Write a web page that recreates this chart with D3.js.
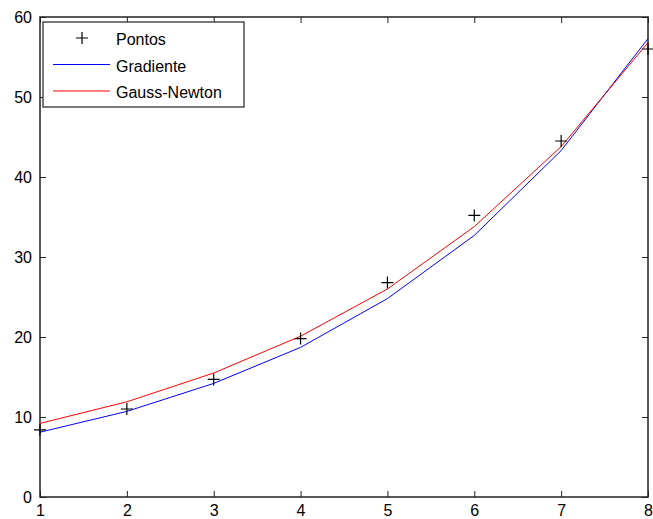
<!DOCTYPE html>
<html>
<head>
<meta charset="utf-8">
<script src="https://cdn.jsdelivr.net/npm/d3@7"></script>
<style>
  body { margin: 0; background: #fff; }
  svg text { font-family: "Liberation Sans", Arial, sans-serif; font-size: 16px; fill: #000; }
</style>
</head>
<body>
<svg id="chart" width="653" height="519"></svg>
<script>
// values
const xValues = [1, 2, 3, 4, 5, 6, 7, 8];
const pontos = [8.4, 11.0, 14.7, 19.8, 26.8, 35.2, 44.5, 56.0];
const gradiente = [8.1, 10.7, 14.2, 18.7, 24.8, 32.7, 43.3, 57.3];
const gaussNewton = [9.2, 11.9, 15.5, 20.1, 26.0, 33.8, 43.8, 56.8];
const xTicks = [1, 2, 3, 4, 5, 6, 7, 8];
const yTicks = [0, 10, 20, 30, 40, 50, 60];

const margin = { left: 40, right: 5, top: 17, bottom: 22 };
const width = 653, height = 519;

const svg = d3.select('#chart');

const x = d3.scaleLinear().domain([1, 8]).range([margin.left, width - margin.right]);
const y = d3.scaleLinear().domain([0, 60]).range([height - margin.bottom, margin.top]);

// ticks on all four sides, pointing inward
const tickLen = 6;
svg.append('g')
  .attr('transform', `translate(0,${y(0)})`)
  .call(d3.axisBottom(x).tickValues(xTicks).tickFormat(d3.format('d')).tickSizeInner(-tickLen).tickSizeOuter(0).tickPadding(tickLen + 2))
  .call(g => g.select('.domain').remove());
svg.append('g')
  .attr('transform', `translate(0,${y(60)})`)
  .call(d3.axisTop(x).tickValues(xTicks).tickSizeInner(-tickLen).tickSizeOuter(0).tickFormat(''))
  .call(g => g.select('.domain').remove());
svg.append('g')
  .attr('transform', `translate(${x(1)},0)`)
  .call(d3.axisLeft(y).tickValues(yTicks).tickFormat(d3.format('d')).tickSizeInner(-tickLen).tickSizeOuter(0).tickPadding(tickLen + 2))
  .call(g => g.select('.domain').remove());
svg.append('g')
  .attr('transform', `translate(${x(8)},0)`)
  .call(d3.axisRight(y).tickValues(yTicks).tickSizeInner(-tickLen).tickSizeOuter(0).tickFormat(''))
  .call(g => g.select('.domain').remove());

svg.selectAll('.tick line').attr('stroke', '#222');
svg.selectAll('.tick text').attr('font-size', 16).attr('font-family', '"Liberation Sans", Arial, sans-serif');

// box
svg.append('rect')
  .attr('x', x(1)).attr('y', y(60))
  .attr('width', x(8) - x(1)).attr('height', y(0) - y(60))
  .attr('fill', 'none').attr('stroke', '#222').attr('stroke-width', 1.5);

const line = d3.line().x((d, i) => x(xValues[i])).y(d => y(d));

svg.append('path').datum(gradiente)
  .attr('d', line).attr('fill', 'none').attr('stroke', '#0000ff').attr('stroke-width', 1);
svg.append('path').datum(gaussNewton)
  .attr('d', line).attr('fill', 'none').attr('stroke', '#ff0000').attr('stroke-width', 1);

function drawPlus(g, cx, cy) {
  const s = 6;
  g.append('path')
    .attr('d', `M${cx - s},${cy}H${cx + s}M${cx},${cy - s}V${cy + s}`)
    .attr('stroke', '#000').attr('stroke-width', 1.2).attr('fill', 'none');
}
const pts = svg.append('g');
pontos.forEach((v, i) => drawPlus(pts, x(xValues[i]), y(v)));

// legend
const legend = svg.append('g');
legend.append('rect')
  .attr('x', 43).attr('y', 22).attr('width', 201).attr('height', 85)
  .attr('fill', '#fff').attr('stroke', '#222').attr('stroke-width', 1.2);
const entries = [
  { label: 'Pontos', type: 'marker' },
  { label: 'Gradiente', type: 'line', color: '#0000ff' },
  { label: 'Gauss-Newton', type: 'line', color: '#ff0000' }
];
entries.forEach((e, i) => {
  const cy = 38 + i * 26.5;
  if (e.type === 'marker') {
    drawPlus(legend, 82, cy);
  } else {
    legend.append('line')
      .attr('x1', 53).attr('x2', 110).attr('y1', cy).attr('y2', cy)
      .attr('stroke', e.color).attr('stroke-width', 1);
  }
  legend.append('text')
    .attr('x', 116).attr('y', cy + 7)
    .attr('font-size', 17.5)
    .text(e.label);
});
</script>
</body>
</html>
